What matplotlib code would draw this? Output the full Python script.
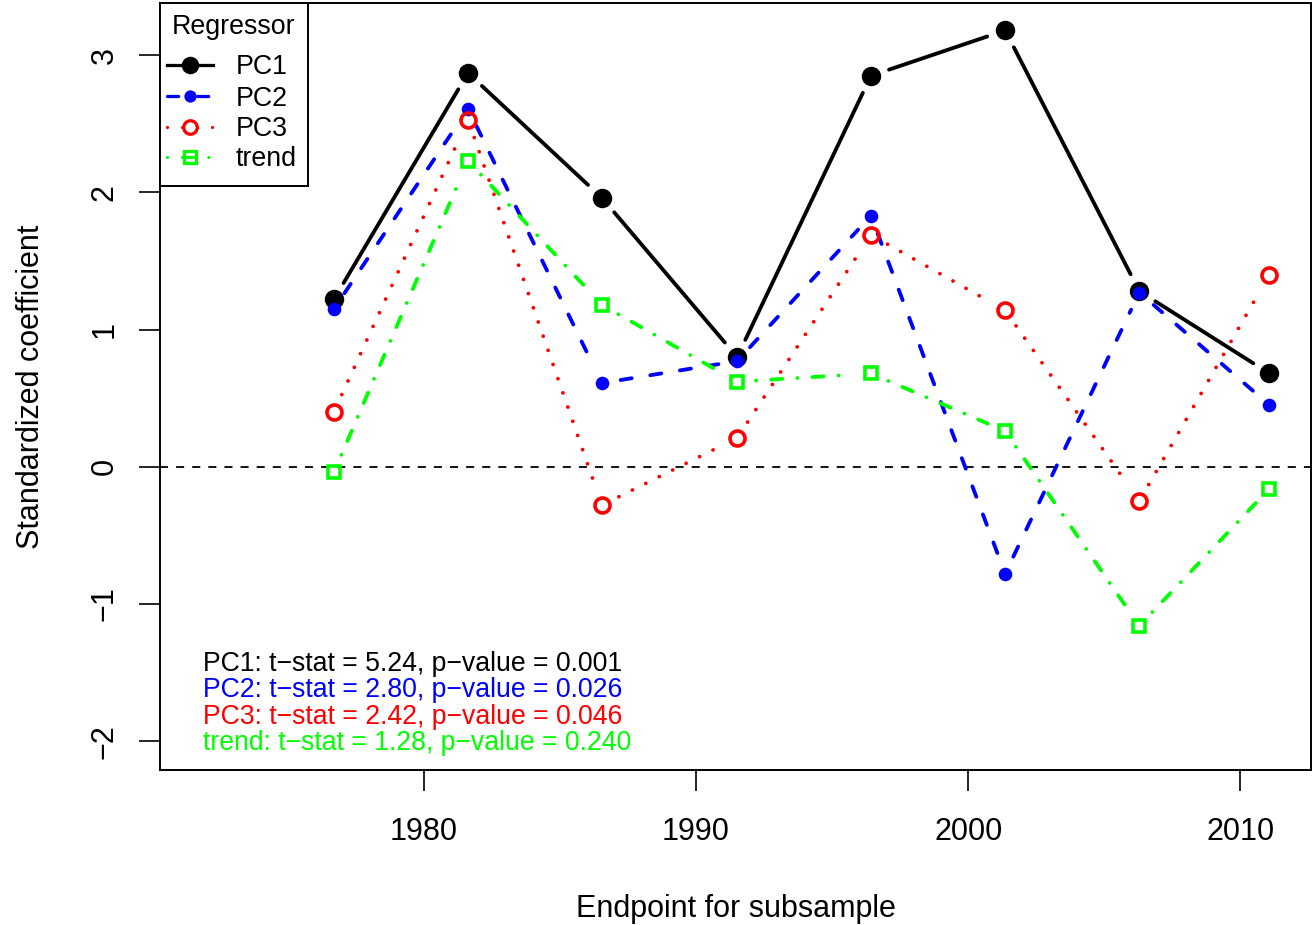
import numpy as np
import matplotlib
matplotlib.use("Agg")
import matplotlib.pyplot as plt
from matplotlib.patches import Rectangle

# subsample endpoints (years) and standardized coefficients
years = [1976.69, 1981.62, 1986.54, 1991.51, 1996.43, 2001.36, 2006.29, 2011.07]
pc1 = [1.22, 2.87, 1.96, 0.80, 2.85, 3.18, 1.28, 0.68]
pc2 = [1.15, 2.61, 0.61, 0.77, 1.83, -0.78, 1.27, 0.45]
pc3 = [0.40, 2.53, -0.28, 0.21, 1.69, 1.14, -0.25, 1.40]
trend = [-0.04, 2.23, 1.18, 0.62, 0.68, 0.26, -1.16, -0.16]

names = ["PC1", "PC2", "PC3", "trend"]
tstats = ["5.24", "2.80", "2.42", "1.28"]
pvals = ["0.001", "0.026", "0.046", "0.240"]

plt.rcParams['font.family'] = ['Liberation Sans', 'DejaVu Sans']
plt.rcParams['lines.scale_dashes'] = False

W, H = 1314, 925
fig = plt.figure(figsize=(W/100, H/100), dpi=100)
ax = fig.add_axes([160/W, 155/H, 1151/W, 767/H])
ax.set_xlim(1970.3, 2012.6)
ax.set_ylim(-2.21, 3.38)

def ax_xy(px, py):
    # pixel position -> axes fraction
    return (px - 160) / 1151, (770 - py) / 767

lw = 2.75
u = 2.7   # dash unit (pt)
styles = [
    dict(color="black", ls="-", marker="o", ms=14, mfc="black", mew=0),
    dict(color="#0000FF", ls=(0, (4*u - lw, 4*u + lw)), marker="o", ms=9.8, mfc="#0000FF", mew=0),
    dict(color="#FF0000", ls=(0, (0.01, 4*u)), marker="o", ms=10.8, mfc="none", mew=2.6),
    dict(color="#00FF00", ls=(0, (0.01, 3*u + lw, 4*u - lw, 3*u + lw)), marker="s", ms=9.2,
         mfc="none", mew=2.6),
]
series = [pc1, pc2, pc3, trend]

ax.axhline(0, color="black", lw=1.3, ls=(0, (5.8, 5.8)))

# R type="b": segments stop short of each point
gap = 19.0
inv = ax.transData.inverted()
for vals, st in zip(series, styles):
    pts = ax.transData.transform(np.column_stack([years, vals]))
    for i in range(len(pts) - 1):
        p0, p1 = pts[i], pts[i + 1]
        d = p1 - p0
        L = np.hypot(d[0], d[1])
        if L <= 2 * gap:
            continue
        e = d / L
        seg = inv.transform(np.array([p0 + e * gap, p1 - e * gap]))
        ax.plot(seg[:, 0], seg[:, 1], color=st["color"], lw=lw, ls=st["ls"],
                dash_capstyle="round", solid_capstyle="round")
    ax.plot(years, vals, ls="none", marker=st["marker"], ms=st["ms"],
            mfc=st["mfc"], mec=st["color"], mew=st["mew"], zorder=3)

# legend box, drawn R-style
x0, y0 = ax_xy(160, 186)
x1, y1 = ax_xy(308, 3)
ax.add_patch(Rectangle((x0, y0), x1 - x0, y1 - y0, transform=ax.transAxes,
                       fc="white", ec="black", lw=1.4, zorder=5, clip_on=False))
tx, ty = ax_xy(234, 27.5)
ax.text(tx, ty, "Regressor", transform=ax.transAxes, fontsize=19.3,
        ha="center", va="center", zorder=6)
for i, (name, st) in enumerate(zip(names, styles)):
    yy = [65, 96, 127, 157][i]
    la, lb = ax_xy(167, yy)
    lc, _ = ax_xy(213, yy)
    lm, _ = ax_xy(190, yy)
    ax.plot([la, lc], [lb, lb], transform=ax.transAxes, color=st["color"], lw=lw * 0.85,
            ls=st["ls"], dash_capstyle="round", zorder=6, clip_on=False)
    ax.plot([lm], [lb], transform=ax.transAxes, ls="none", marker=st["marker"],
            ms=st["ms"] * 0.9, mfc=st["mfc"], mec=st["color"], mew=st["mew"] * 0.9,
            zorder=7, clip_on=False)
    lt, lty = ax_xy(236, yy + 2.5)
    ax.text(lt, lty, name, transform=ax.transAxes, fontsize=19.3, ha="left",
            va="center", zorder=6)

# t-stat annotations
cols = ["black", "#0000FF", "#FF0000", "#00FF00"]
for i, (name, t, p, c) in enumerate(zip(names, tstats, pvals, cols)):
    ax_x, ax_y = ax_xy(203, 664 + i * 26.4)
    ax.text(ax_x, ax_y, name + ": t\u2212stat = " + t + ", p\u2212value = " + p,
            transform=ax.transAxes, color=c, fontsize=19.2, va="center", ha="left")

ax.set_xticks([1980, 1990, 2000, 2010])
ax.set_yticks([-2, -1, 0, 1, 2, 3])
ax.set_yticklabels(["\u22122", "\u22121", "0", "1", "2", "3"], rotation=90, va="center")
ax.tick_params(axis="both", labelsize=22, length=15, width=1.2, direction="out")
ax.tick_params(axis="x", pad=18.5)
ax.tick_params(axis="y", pad=14)
for s in ax.spines.values():
    s.set_linewidth(1.4)

ax.set_xlabel("Endpoint for subsample", fontsize=22, labelpad=34)
ax.set_ylabel("Standardized coefficient", fontsize=22, labelpad=31.5)

fig.savefig("out.png", dpi=100)
